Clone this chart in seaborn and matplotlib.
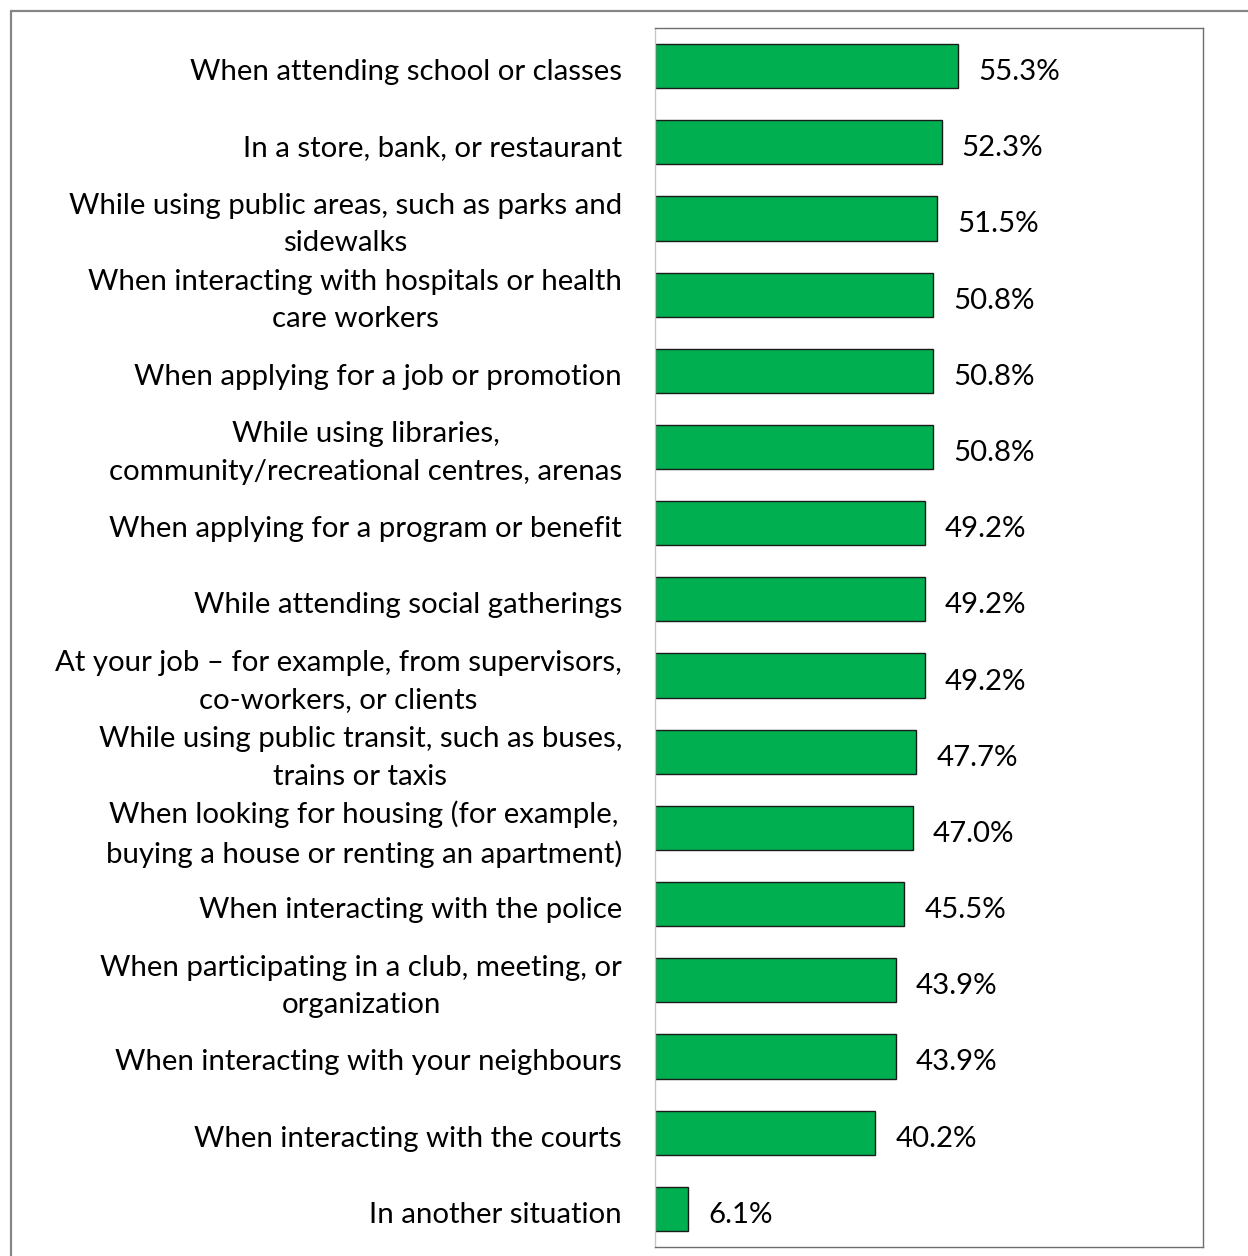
import matplotlib
matplotlib.use("Agg")
import matplotlib.pyplot as plt
import matplotlib.transforms as mtransforms
from matplotlib.lines import Line2D
import seaborn as sns
import pandas as pd

situations = [
    "When attending school or classes",
    "In a store, bank, or restaurant",
    "While using public areas, such as parks and\nsidewalks",
    "When interacting with hospitals or health\ncare workers",
    "When applying for a job or promotion",
    "While using libraries,\ncommunity/recreational centres, arenas",
    "When applying for a program or benefit",
    "While attending social gatherings",
    "At your job \u2013 for example, from supervisors,\nco-workers, or clients",
    "While using public transit, such as buses,\ntrains or taxis",
    "When looking for housing (for example,\nbuying a house or renting an apartment)",
    "When interacting with the police",
    "When participating in a club, meeting, or\norganization",
    "When interacting with your neighbours",
    "When interacting with the courts",
    "In another situation",
]
percentages = [55.3, 52.3, 51.5, 50.8, 50.8, 50.8, 49.2, 49.2, 49.2, 47.7, 47.0, 45.5, 43.9, 43.9, 40.2, 6.1]

df = pd.DataFrame({"situation": situations, "pct": percentages})

sns.set_theme(style="white")
plt.rcParams["font.family"] = ["Lato", "DejaVu Sans"]

FS = 21.2

fig = plt.figure(figsize=(12.48, 12.56), dpi=100)
ax = fig.add_axes([0.5248, 0.0072, 0.4391, 0.9705])

sns.barplot(data=df, x="pct", y="situation", orient="h", color="#00B050",
            saturation=1, width=0.58, edgecolor="#1a1a1a", linewidth=1.0, ax=ax)

ax.set_xlim(0, 100)
ax.set_xlabel("")
ax.set_ylabel("")
ax.set_xticks([])
ax.tick_params(axis="y", length=0)
ypos = ax.get_yticks()
ax.set_yticklabels([])

# category labels, nudged slightly below the bar centres
label_tf = ax.get_yaxis_transform() + mtransforms.ScaledTranslation(-33 / 100, -6 / 100, fig.dpi_scale_trans)
for y, name in zip(ypos, situations):
    ax.text(0, y, name, transform=label_tf, ha="right", va="center",
            multialignment="center", fontsize=FS, linespacing=1.55, color="black")

# value labels after each bar
value_tf = ax.transData + mtransforms.ScaledTranslation(20 / 100, -6 / 100, fig.dpi_scale_trans)
for y, v in zip(ypos, percentages):
    ax.text(v, y, f"{v:.1f}%", transform=value_tf, ha="left", va="center",
            fontsize=FS, color="black")

for side in ["top", "right", "bottom"]:
    ax.spines[side].set_color("#6e6e6e")
    ax.spines[side].set_linewidth(1.0)
ax.spines["left"].set_color("#c8c8c8")
ax.spines["left"].set_linewidth(1.0)

# outer frame of the chart area
fx = 11 / 1248
fy = 1 - 11 / 1256
fig.add_artist(Line2D([fx, 1.0], [fy, fy], color="#868686", lw=1.6, transform=fig.transFigure))
fig.add_artist(Line2D([fx, fx], [0.0, fy], color="#868686", lw=1.6, transform=fig.transFigure))

fig.savefig("out.png", dpi=100)
